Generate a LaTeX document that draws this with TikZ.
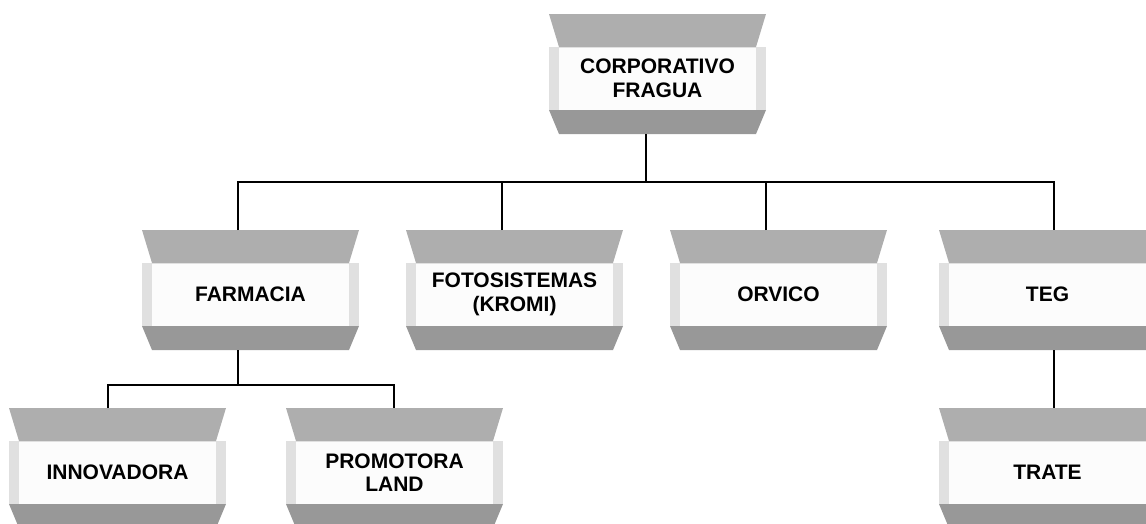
\documentclass[tikz,border=0pt]{standalone}
\usepackage{fontspec}
\setmainfont{Liberation Sans}
\usetikzlibrary{positioning}

\definecolor{bandtop}{RGB}{174,174,174}
\definecolor{bandbot}{RGB}{152,152,152}
\definecolor{sidegray}{RGB}{224,224,224}
\definecolor{facegray}{RGB}{252,252,252}

\tikzset{
    boxframe/.style={draw=none, inner sep=0pt, minimum width=217pt, minimum height=120pt},
    boxtext/.style={font=\fontsize{21}{23.5}\selectfont\bfseries, align=center, inner sep=0pt},
    orgline/.style={line width=1.6pt, black}
}

% #1 name, #2 left, #3 top, #4 connector x, #5 text
\newcommand{\orgbox}[5]{%
    \fill[bandtop] (#2,#3) -- ++(217,0) -- ++(-10,33) -- ++(-197,0) -- cycle;
    \fill[sidegray] (#2,#3+33) rectangle ++(217,63);
    \fill[facegray] (#2+10,#3+33.5) rectangle ++(197,62);
    \fill[bandbot] (#2,#3+96) -- ++(217,0) -- ++(-10,24) -- ++(-197,0) -- cycle;
    \node[boxframe] (#1) at (#2+108.5,#3+60) {};
    \node[boxtext] (#1-label) at ([yshift=-4.5pt]#1.center) {#5};
    \coordinate (#1-in) at (#4,#3);
    \coordinate (#1-out) at (#4,#3+120);
}

\begin{document}
\begin{tikzpicture}[x=1pt, y=-1pt]
        \useasboundingbox (0,0) rectangle (1146,523);
        \clip (0,0) rectangle (1146,523);

        \orgbox{corp}{549}{14}{646}{CORPORATIVO\\FRAGUA}

        \orgbox{farm}{142}{230}{238}{FARMACIA}
        \orgbox{foto}{406}{230}{502}{FOTOSISTEMAS\\(KROMI)}
        \orgbox{orvi}{670}{230}{766}{ORVICO}
        \orgbox{teg}{939}{230}{1054}{TEG}

        \orgbox{inno}{9}{408}{108}{INNOVADORA}
        \orgbox{prom}{286}{408}{394}{PROMOTORA\\LAND}
        \orgbox{trate}{939}{408}{1054}{TRATE}

        % first level
        \draw[orgline] (corp-out) -- ++(0,48);
        \draw[orgline] (farm-in) -- ++(0,-48) -| (teg-in);
        \draw[orgline] (foto-in) -- ++(0,-48);
        \draw[orgline] (orvi-in) -- ++(0,-48);

        % second level
        \draw[orgline] (farm-out) -- ++(0,35);
        \draw[orgline] (inno-in) -- ++(0,-23) -| (prom-in);
        \draw[orgline] (teg-out) -- (trate-in);

    \end{tikzpicture}
\end{document}
